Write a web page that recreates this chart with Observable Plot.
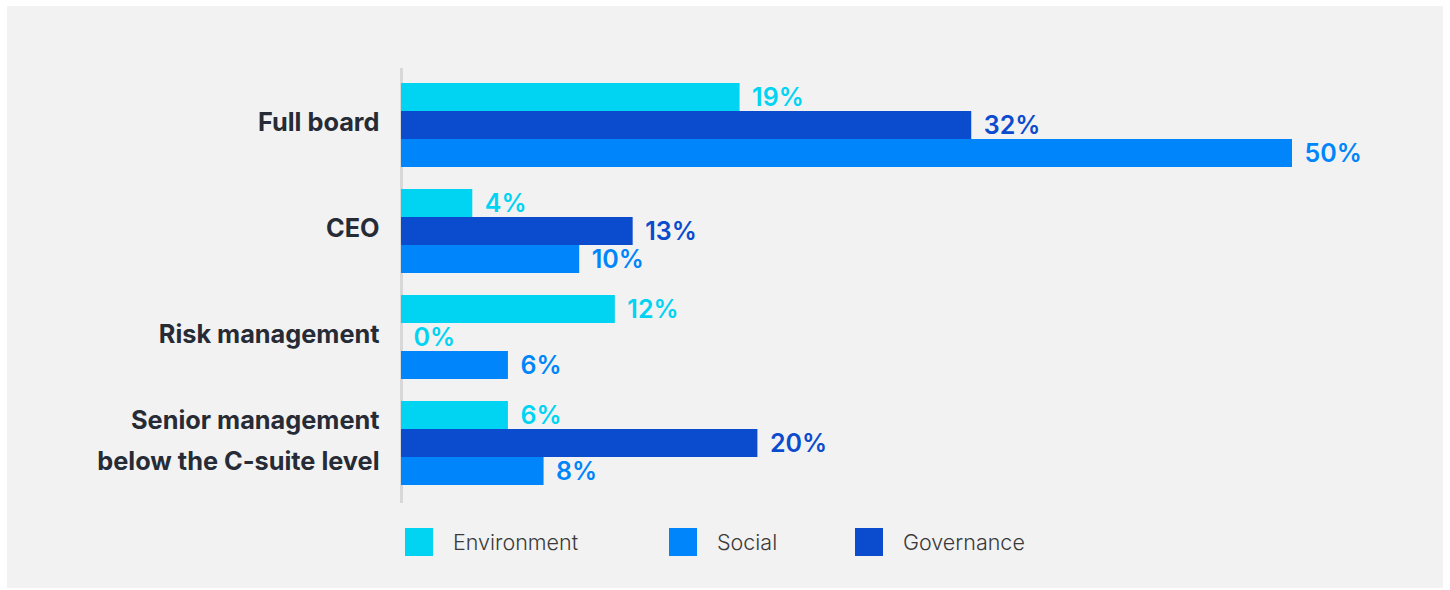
<!DOCTYPE html>
<html>
<head>
<meta charset="utf-8">
<script src="https://cdn.jsdelivr.net/npm/d3@7"></script>
<script src="https://cdn.jsdelivr.net/npm/@observablehq/plot@0.6"></script>
<style>
  html, body { margin: 0; padding: 0; background: #ffffff; }
  #panel { position: absolute; left: 7px; top: 6px; width: 1436px; height: 582px; background: #f2f2f2; }
  #legend { position: absolute; left: 398px; top: 522px; display: flex; align-items: center;
            font-family: Inter, "Noto Sans", sans-serif; font-weight: 300; font-size: 21.5px; color: #3a3a3a; }
  .item { display: flex; align-items: center; }
  .swatch { width: 28px; height: 28px; margin-right: 20px; }
</style>
</head>
<body>
<div id="panel"><div id="chart"></div><div id="legend"></div></div>
<script>
const categories = ["Full board", "CEO", "Risk management", "Senior management below the C-suite level"];
const categoryLabels = ["Full board", "CEO", "Risk management", "Senior management\nbelow the C-suite level"];
const series = ["Environment", "Governance", "Social"];
const legendOrder = ["Environment", "Social", "Governance"];
const seriesColors = ["#00d4f2", "#0b4bce", "#0085fa"];
const environment = [19, 4, 12, 6];
const governance = [32, 13, 0, 20];
const social = [50, 10, 6, 8];

const valuesBySeries = {Environment: environment, Governance: governance, Social: social};
const data = [];
categories.forEach((c, i) => {
  series.forEach(s => data.push({category: c, series: s, value: valuesBySeries[s][i]}));
});

const chart = Plot.plot({
  width: 1436,
  height: 505,
  marginLeft: 394,
  marginRight: 151,
  marginTop: 62,
  marginBottom: 11,
  style: {background: "transparent", fontFamily: "Inter, 'Noto Sans', sans-serif"},
  x: {domain: [0, 50], axis: null},
  y: {domain: series, padding: 0, axis: null},
  fy: {domain: categories, paddingInner: 0.1887, paddingOuter: 0.132, axis: null},
  color: {domain: series, range: seriesColors},
  marks: [
    Plot.ruleX(categories, {x: () => 0, fy: d => d, stroke: "#d8d8d8", strokeWidth: 3, insetTop: -14, insetBottom: -17}),
    Plot.barX(data, {x: "value", y: "series", fy: "category", fill: "series"}),
    Plot.text(data, {x: "value", y: "series", fy: "category", text: d => d.value + "%",
      fill: d => d.value === 0 ? "Environment" : d.series, textAnchor: "start", dx: 12, fontSize: 25, fontWeight: 600}),
    Plot.text(categories, {fy: d => d, text: (d, i) => categoryLabels[i], frameAnchor: "left",
      textAnchor: "end", dx: -22, dy: -7, fontSize: 25.3, fontWeight: 700, fill: "#262b36", lineHeight: 1.6})
  ]
});
document.getElementById("chart").appendChild(chart);

const legend = document.getElementById("legend");
const widths = [264, 186, 200];
legendOrder.forEach((s, i) => {
  const item = document.createElement("div");
  item.className = "item";
  item.style.width = widths[i] + "px";
  const sw = document.createElement("div");
  sw.className = "swatch";
  sw.style.background = seriesColors[series.indexOf(s)];
  const t = document.createElement("span");
  t.textContent = s;
  item.appendChild(sw);
  item.appendChild(t);
  legend.appendChild(item);
});
</script>
</body>
</html>
